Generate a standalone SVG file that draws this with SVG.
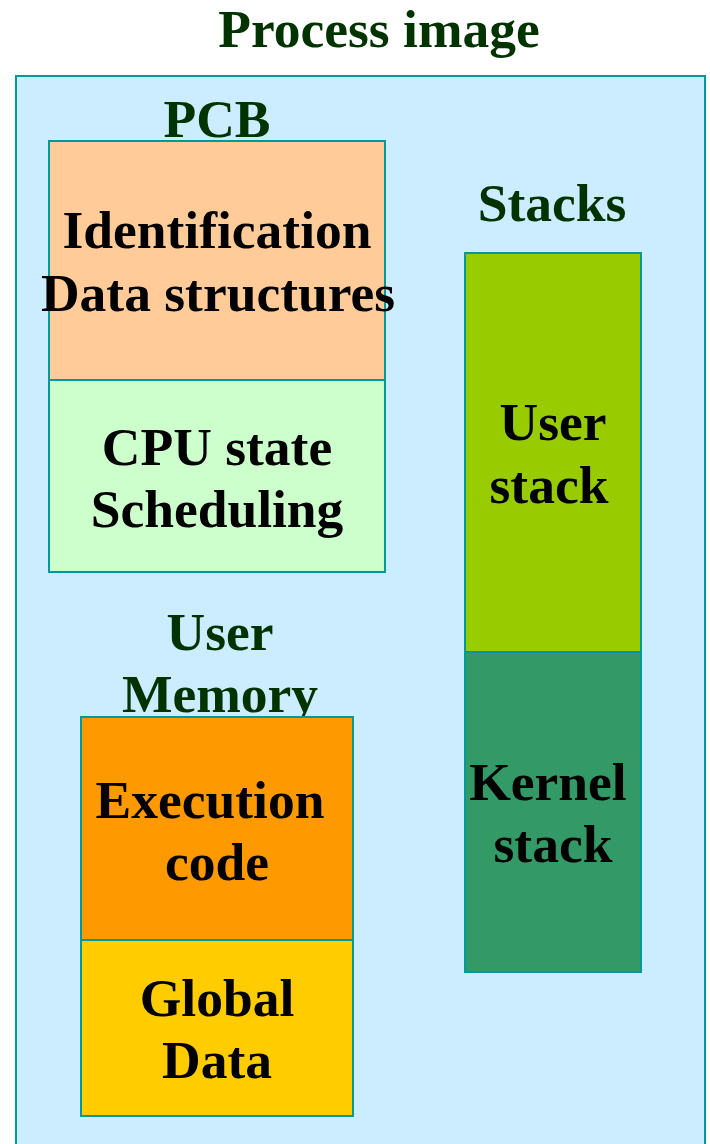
<svg xmlns="http://www.w3.org/2000/svg" width="710" height="1144" viewBox="0 0 710 1144">
<style>
.box{stroke:#009999;stroke-width:2}
.t{font-family:"Liberation Serif","Times New Roman",serif;font-weight:bold;font-size:53.5px;text-anchor:middle;fill:#000}
.h{fill:#003300}
</style>
<rect width="710" height="1144" fill="#ffffff"/>
<g id="process-image">
<rect class="box" x="16" y="76" width="689" height="1080" fill="#CCECFF"/>
<text class="t h" x="379" y="47">Process image</text>
</g>
<g id="pcb">
<text class="t h" x="217" y="137">PCB</text>
<rect class="box" x="49" y="141" width="336" height="239" fill="#FFCC99"/>
<text class="t" x="217" y="248">Identification</text>
<text class="t" x="218" y="311">Data structures</text>
<rect class="box" x="49" y="380" width="336" height="192" fill="#CCFFCC"/>
<text class="t" x="217" y="465">CPU state</text>
<text class="t" x="217" y="527">Scheduling</text>
</g>
<g id="stacks">
<text class="t h" x="552" y="221">Stacks</text>
<rect class="box" x="465" y="253" width="176" height="399" fill="#99CC00"/>
<text class="t" x="553" y="440">User</text>
<text class="t" x="549" y="503">stack</text>
<rect class="box" x="465" y="652" width="176" height="320" fill="#339966"/>
<text class="t" x="548" y="800">Kernel</text>
<text class="t" x="553" y="862">stack</text>
</g>
<g id="user-memory">
<text class="t h" x="220" y="650">User</text>
<text class="t h" x="220" y="712">Memory</text>
<rect class="box" x="81" y="717" width="272" height="223" fill="#FF9900"/>
<text class="t" x="210" y="818">Execution</text>
<text class="t" x="217" y="880">code</text>
<rect class="box" x="81" y="940" width="272" height="176" fill="#FFCC00"/>
<text class="t" x="217" y="1016">Global</text>
<text class="t" x="217" y="1078">Data</text>
</g>
<g id="connectors"/>
</svg>
